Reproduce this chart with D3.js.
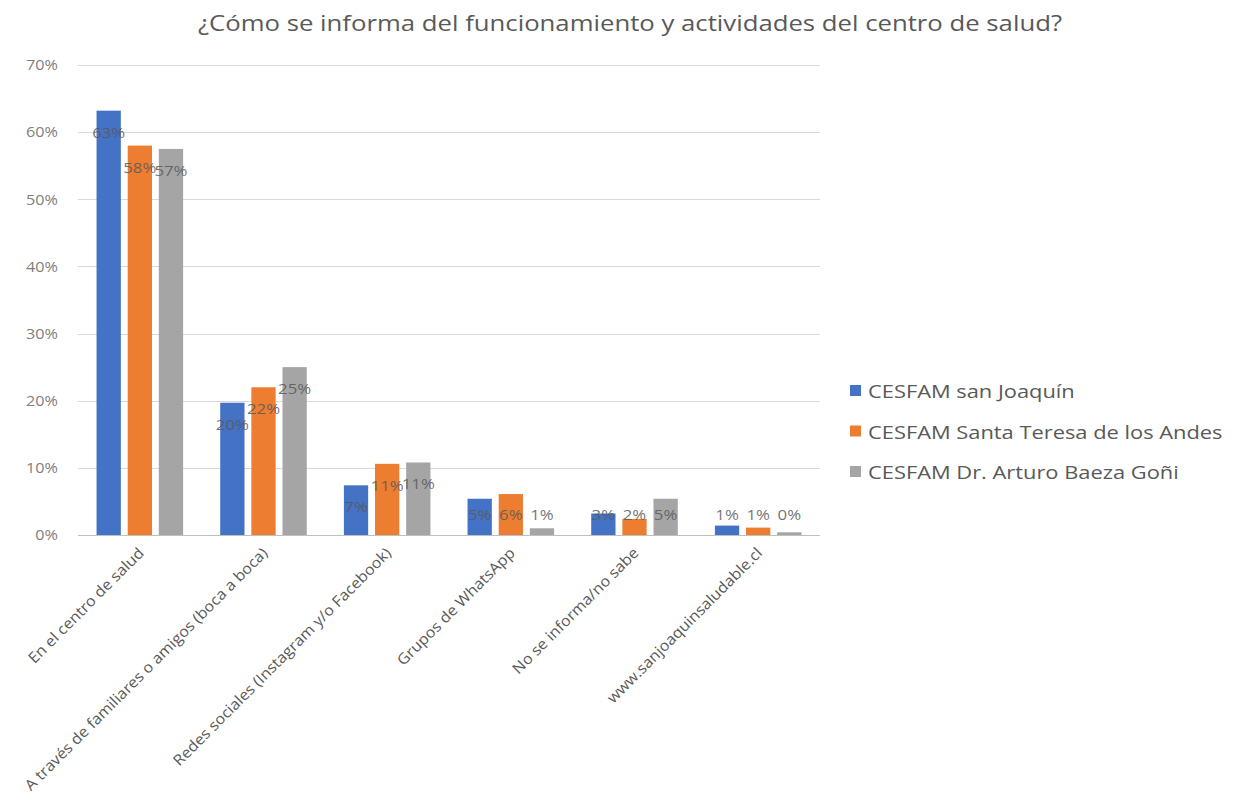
<!DOCTYPE html>
<meta charset="utf-8">

<style>
  body { margin: 0; background: #fff; }
  text { font-family: "Open Sans", sans-serif; }
</style>

<svg class="chart"></svg>

<script src="https://d3js.org/d3.v7.min.js"></script>
<script>

  var width  = 1243;
  var height = 806;

  var title = "¿Cómo se informa del funcionamiento y actividades del centro de salud?";

  var categories = [
    "En el centro de salud",
    "A través de familiares o amigos (boca a boca)",
    "Redes sociales (Instagram y/o Facebook)",
    "Grupos de WhatsApp",
    "No se informa/no sabe",
    "www.sanjoaquinsaludable.cl"
  ];

  var seriesNames = [
    "CESFAM san Joaquín",
    "CESFAM Santa Teresa de los Andes",
    "CESFAM Dr. Arturo Baeza Goñi"
  ];

  var sanJoaquin   = [0.632, 0.197, 0.074, 0.054, 0.032, 0.014];
  var santaTeresa  = [0.580, 0.220, 0.106, 0.061, 0.024, 0.011];
  var arturoBaeza  = [0.575, 0.250, 0.108, 0.010, 0.054, 0.004];

  var yTicks = [0, 0.1, 0.2, 0.3, 0.4, 0.5, 0.6, 0.7];

  var colors = ["#4472c4", "#ed7d31", "#a5a5a5"];

  var series = [sanJoaquin, santaTeresa, arturoBaeza];

  var margin = { left: 78, right: 423, top: 65, bottom: 271 };

  var pct = d3.format(".0%");

  // the reference text is set a bit wider than the fonts we have
  function stretch(sel, f) {
    sel.each(function() {
      var w = this.getComputedTextLength();
      d3.select(this)
          .attr("textLength", w * f)
          .attr("lengthAdjust", "spacingAndGlyphs");
    });
  }

  var chart = d3.select(".chart")
      .attr("width", width)
      .attr("height", height);

  var x0 = d3.scaleBand()
      .domain(categories)
      .range([margin.left, width - margin.right])
      .paddingInner(0.3)
      .paddingOuter(0.15);

  var x1 = d3.scaleBand()
      .domain(d3.range(seriesNames.length))
      .range([0, x0.bandwidth()])
      .paddingInner(0.22);

  var y = d3.scaleLinear()
      .domain([0, 0.7])
      .range([height - margin.bottom, margin.top]);

  chart.append("text")
      .attr("x", 630)
      .attr("y", 31)
      .attr("text-anchor", "middle")
      .attr("font-size", 21)
      .attr("fill", "#595959")
      .attr("textLength", 864)
      .attr("lengthAdjust", "spacingAndGlyphs")
      .text(title);

  // gridlines
  chart.append("g")
    .selectAll("line")
    .data(yTicks)
    .enter().append("line")
      .attr("x1", margin.left)
      .attr("x2", width - margin.right)
      .attr("y1", function(d) { return Math.round(y(d)) + 0.5; })
      .attr("y2", function(d) { return Math.round(y(d)) + 0.5; })
      .attr("stroke", function(d) { return d === 0 ? "#bfbfbf" : "#d9d9d9"; })
      .attr("stroke-width", 1);

  var yAxis = chart.append("g")
      .attr("transform", "translate(" + (margin.left - 17) + ",0)")
      .call(d3.axisLeft(y).tickValues(yTicks).tickSize(0).tickFormat(pct));

  yAxis.select(".domain").remove();
  yAxis.selectAll("text")
      .attr("font-family", "Open Sans, sans-serif")
      .attr("font-size", 15)
      .attr("fill", "#7f7f7f")
      .call(stretch, 1.08);

  var groups = chart.append("g")
    .selectAll("g")
    .data(categories)
    .enter().append("g")
      .attr("transform", function(d) { return "translate(" + x0(d) + ",0)"; });

  groups.selectAll("rect")
    .data(function(d, i) { return series.map(function(s, k) { return { k: k, v: s[i] }; }); })
    .enter().append("rect")
      .attr("x", function(d) { return x1(d.k); })
      .attr("width", x1.bandwidth())
      .attr("y", function(d) { return y(d.v); })
      .attr("height", function(d) { return y(0) - y(d.v); })
      .attr("fill", function(d) { return colors[d.k]; });

  groups.selectAll("text.label")
    .data(function(d, i) { return series.map(function(s, k) { return { k: k, v: s[i] }; }); })
    .enter().append("text")
      .attr("class", "label")
      .attr("x", function(d) { return x1(d.k) + x1.bandwidth() / 2; })
      .attr("y", function(d) { return Math.min(y(d.v) + 27, y(0) - 15); })
      .attr("text-anchor", "middle")
      .attr("font-size", 15)
      .attr("fill", "#595959")
      .attr("fill-opacity", 0.85)
      .text(function(d) { return pct(d.v); })
      .call(stretch, 1.12);

  // category labels
  chart.append("g")
    .selectAll("text")
    .data(categories)
    .enter().append("text")
      .attr("transform", function(d) {
        return "translate(" + (x0(d) + x0.bandwidth() / 2 + 5) + "," + (y(0) + 19) + ") rotate(-45)";
      })
      .attr("text-anchor", "end")
      .attr("font-size", 15)
      .attr("fill", "#595959")
      .text(function(d) { return d; })
      .call(stretch, 1.07);

  // legend
  var legend = chart.append("g")
    .selectAll("g")
    .data(seriesNames)
    .enter().append("g")
      .attr("transform", function(d, i) { return "translate(850," + (391 + i * 40.5) + ")"; });

  legend.append("rect")
      .attr("x", 0)
      .attr("y", -6)
      .attr("width", 11)
      .attr("height", 11)
      .attr("fill", function(d, i) { return colors[i]; });

  legend.append("text")
      .attr("x", 18)
      .attr("y", 7)
      .attr("font-size", 19)
      .attr("fill", "#595959")
      .text(function(d) { return d; })
      .call(stretch, 1.15);

</script>
